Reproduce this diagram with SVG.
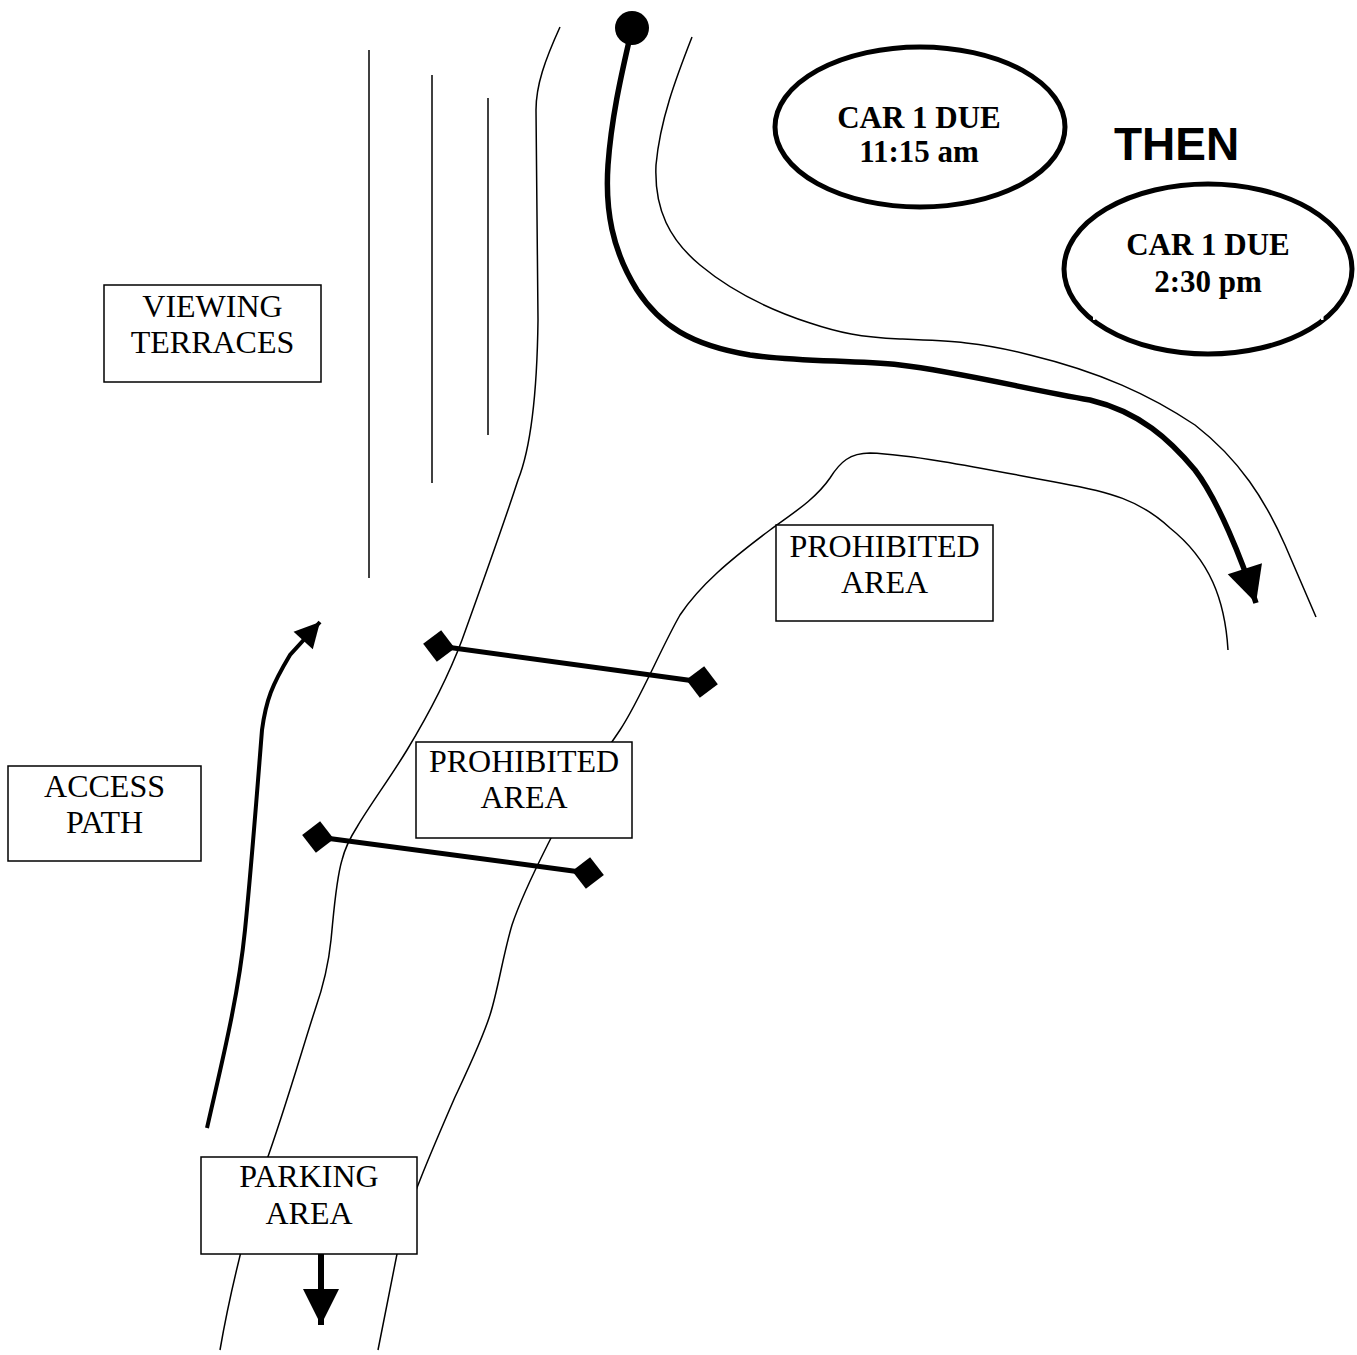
<svg xmlns="http://www.w3.org/2000/svg" width="1357" height="1355" viewBox="0 0 1357 1355">
<style>
.thin{fill:none;stroke:#000;stroke-width:1.5}
.box{fill:#fff;stroke:#000;stroke-width:1.5}
.lbl{font-family:"Liberation Serif","Times New Roman",serif;font-size:32px;fill:#000;text-anchor:middle}
.car{font-family:"Liberation Serif","Times New Roman",serif;font-size:31px;font-weight:bold;fill:#000;text-anchor:middle}
.oval{fill:#fff;stroke:#000;stroke-width:5}
.bar{fill:none;stroke:#000;stroke-width:5;marker-start:url(#dia);marker-end:url(#dia)}
</style>
<defs>
<marker id="dia" markerUnits="userSpaceOnUse" markerWidth="40" markerHeight="40" refX="0" refY="0" viewBox="-20 -20 40 40" orient="auto"><path d="M-16,0 L0,-16 L16,0 L0,16 Z" fill="#000"/></marker>
<marker id="arrBig" markerUnits="userSpaceOnUse" markerWidth="40" markerHeight="40" refX="0" refY="0" viewBox="-38 -20 40 40" orient="auto"><path d="M0,0 L-36,-18 L-36,18 Z" fill="#000"/></marker>
<marker id="arrSmall" markerUnits="userSpaceOnUse" markerWidth="30" markerHeight="30" refX="0" refY="0" viewBox="-28 -15 30 30" orient="auto"><path d="M0,0 L-25,-13 L-25,13 Z" fill="#000"/></marker>
</defs>

<g id="terraces">
<line class="thin" x1="369" y1="50" x2="369" y2="578"/>
<line class="thin" x1="432" y1="75" x2="432" y2="483"/>
<line class="thin" x1="488" y1="98" x2="488" y2="435"/>
</g>

<g id="roads">
<path class="thin" d="M560,27 C545,60 536,85 536,110 L538,320 C537,400 530,450 518,480 C505,520 480,590 462,640 C450,672 430,712 407,750 C390,778 370,805 357,827 C350,838 345,848 342,860 C336,880 334,910 331,940 C328,970 322,990 315,1010 C305,1040 285,1110 265,1165 C250,1215 232,1280 220,1350"/>
<path class="thin" d="M1228,650 C1225,600 1210,560 1170,528 C1140,500 1110,492 1060,483 C1000,472 920,455 870,453 C850,453 840,462 830,478 C815,500 790,515 770,530 C730,560 700,585 680,615 C660,650 640,700 620,730 C600,760 570,800 550,840 C540,860 522,895 512,925 C503,955 498,990 490,1015 C482,1040 470,1065 455,1097 C445,1120 432,1150 422,1175 C412,1200 402,1225 397,1254 L378,1350"/>
<path class="thin" d="M692,37 C676,78 660,120 656,165 C654,210 670,240 700,265 C730,290 770,310 810,323 C840,333 860,337 900,339 C950,341 980,342 1030,355 C1100,372 1150,395 1195,425 C1240,460 1265,500 1285,545 L1316,617"/>
</g>

<g id="connectors">
<circle cx="632" cy="28" r="17" fill="#000"/>
<path fill="none" stroke="#000" stroke-width="5.5" marker-end="url(#arrBig)" d="M632,28 C625,60 612,110 608,165 C605,210 612,250 637,290 C660,325 690,345 750,355 C800,362 850,360 900,365 C960,372 1030,390 1090,400 C1140,412 1170,440 1195,470 C1218,500 1242,560 1256,603"/>
<path fill="none" stroke="#000" stroke-width="4" marker-end="url(#arrSmall)" d="M207,1128 C220,1070 238,1000 245,930 C252,860 258,780 262,730 C266,700 272,685 290,655 L320,622"/>
<path fill="none" stroke="#000" stroke-width="6" marker-end="url(#arrBig)" d="M321,1254 L321,1325"/>
<line class="bar" x1="439" y1="646" x2="702" y2="682"/>
<line class="bar" x1="318" y1="837" x2="588" y2="873"/>
</g>

<g id="viewing-terraces">
<rect class="box" x="104" y="285" width="217" height="97"/>
<text class="lbl" x="212.5" y="317">VIEWING</text>
<text class="lbl" x="212.5" y="353">TERRACES</text>
</g>

<g id="access-path">
<rect class="box" x="8" y="766" width="193" height="95"/>
<text class="lbl" x="104.5" y="797">ACCESS</text>
<text class="lbl" x="104.5" y="833">PATH</text>
</g>

<g id="prohibited-area-1">
<rect class="box" x="776" y="525" width="217" height="96"/>
<text class="lbl" x="884.5" y="557">PROHIBITED</text>
<text class="lbl" x="884.5" y="593">AREA</text>
</g>

<g id="prohibited-area-2">
<rect class="box" x="416" y="742" width="216" height="96"/>
<text class="lbl" x="524" y="772">PROHIBITED</text>
<text class="lbl" x="524" y="808">AREA</text>
</g>

<g id="parking-area">
<rect class="box" x="201" y="1157" width="216" height="97"/>
<text class="lbl" x="309" y="1187">PARKING</text>
<text class="lbl" x="309" y="1224">AREA</text>
</g>

<g id="car-due-1">
<ellipse class="oval" cx="920" cy="127" rx="145" ry="80"/>
<text class="car" x="919" y="128">CAR 1 DUE</text>
<text class="car" x="919" y="162">11:15 am</text>
</g>

<g id="then">
<text x="1114" y="160" font-family="'Liberation Sans',Arial,sans-serif" font-size="46" font-weight="bold" fill="#000">THEN</text>
</g>

<g id="car-due-2">
<ellipse class="oval" cx="1208" cy="269" rx="144" ry="85"/>
<rect x="1093" y="314" width="2.5" height="6" fill="#fff"/>
<rect x="1321" y="314" width="2.5" height="6" fill="#fff"/>
<text class="car" x="1208" y="255">CAR 1 DUE</text>
<text class="car" x="1208" y="292">2:30 pm</text>
</g>
</svg>
